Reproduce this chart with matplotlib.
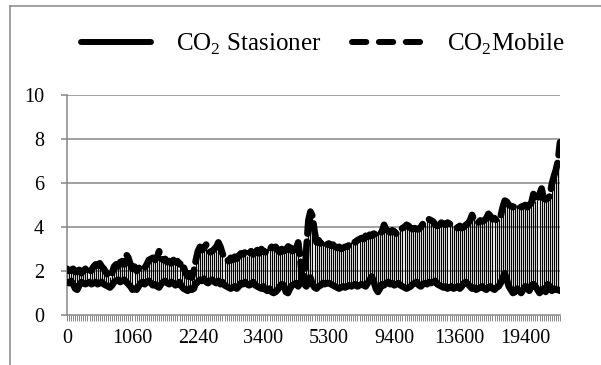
import matplotlib
matplotlib.use('Agg')
import matplotlib.pyplot as plt
from matplotlib.lines import Line2D

plt.rcParams['font.family'] = ['Liberation Serif', 'DejaVu Serif']
plt.rcParams['mathtext.fontset'] = 'custom'
plt.rcParams['mathtext.rm'] = 'Liberation Serif'

# CO2 values per category
co2_stasioner = [
    1.5, 1.45, 1.55, 1.4, 1.2, 1.15, 1.35, 1.5, 1.45, 1.4,
    1.45, 1.5, 1.4, 1.45, 1.5, 1.4, 1.45, 1.5, 1.4, 1.35,
    1.3, 1.25, 1.35, 1.5, 1.55, 1.6, 1.5, 1.55, 1.6, 1.5,
    1.4, 1.3, 1.15, 1.2, 1.15, 1.3, 1.45, 1.5, 1.4, 1.5,
    1.55, 1.45, 1.35, 1.4, 1.3, 1.25, 1.4, 1.5, 1.55, 1.45,
    1.4, 1.5, 1.45, 1.35, 1.4, 1.5, 1.3, 1.2, 1.15, 1.1,
    1.2, 1.15, 1.2, 1.45, 1.5, 1.6, 1.55, 1.65, 1.5, 1.45,
    1.55, 1.6, 1.5, 1.45, 1.55, 1.4, 1.5, 1.35, 1.3, 1.25,
    1.2, 1.25, 1.3, 1.2, 1.3, 1.45, 1.4, 1.5, 1.4, 1.35,
    1.4, 1.5, 1.35, 1.3, 1.25, 1.2, 1.3, 1.15, 1.1, 1.2,
    1.05, 1.0, 1.05, 1.15, 1.3, 1.4, 1.35, 1.05, 1.0, 1.2,
    1.35, 1.4, 1.45, 1.3, 1.5, 1.6, 1.4, 1.3, 1.55, 1.7,
    1.4, 1.25, 1.2, 1.3, 1.35, 1.45, 1.4, 1.45, 1.45, 1.4,
    1.35, 1.3, 1.25, 1.2, 1.25, 1.3, 1.25, 1.3, 1.35, 1.3,
    1.35, 1.4, 1.3, 1.35, 1.4, 1.35, 1.3, 1.45, 1.6, 1.75,
    1.5, 1.2, 1.05, 1.2, 1.4, 1.35, 1.45, 1.5, 1.4, 1.45,
    1.35, 1.4, 1.45, 1.35, 1.3, 1.25, 1.2, 1.25, 1.3, 1.4,
    1.45, 1.5, 1.35, 1.3, 1.4, 1.45, 1.4, 1.5, 1.45, 1.5,
    1.55, 1.4, 1.35, 1.3, 1.25, 1.3, 1.2, 1.25, 1.3, 1.2,
    1.25, 1.3, 1.2, 1.3, 1.45, 1.5, 1.4, 1.3, 1.2, 1.25,
    1.15, 1.2, 1.25, 1.3, 1.2, 1.15, 1.25, 1.3, 1.2, 1.15,
    1.25, 1.3, 1.45, 1.7, 1.9, 1.6, 1.3, 1.15, 1.0, 1.05,
    1.2, 1.1, 1.0, 1.15, 1.3, 1.2, 1.1, 1.35, 1.4, 1.3,
    1.15, 1.0, 1.1, 1.2, 1.05, 1.4, 1.3, 1.1, 1.2, 1.15, 1.15, 1.1,
]
co2_mobile = [
    2.1, 2.0, 2.05, 2.1, 1.95, 2.0, 2.05, 1.9, 2.0, 2.1,
    2.0, 1.9, 2.05, 2.2, 2.3, 2.25, 2.35, 2.2, 2.1, 1.95,
    1.8, 1.75, 1.9, 2.2, 2.3, 2.2, 2.4, 2.45, 2.3, 2.75,
    2.6, 2.3, 2.1, 2.2, 2.0, 2.1, 2.25, 2.2, 2.15, 2.3,
    2.5, 2.55, 2.6, 2.5, 2.6, 2.9, 2.6, 2.5, 2.55, 2.4,
    2.45, 2.35, 2.5, 2.4, 2.45, 2.3, 2.4, 2.2, 1.9, 1.75,
    1.9, 1.7, 2.0, 2.5, 2.9, 3.1, 2.95, 3.05, 3.2, 3.0,
    2.85, 2.9, 3.0, 3.1, 3.3, 3.1, 2.8, 2.6, 2.55, 2.45,
    2.6, 2.5, 2.65, 2.55, 2.7, 2.8, 2.75, 2.85, 2.7, 2.8,
    2.9, 2.75, 2.85, 2.95, 2.8, 3.0, 2.9, 2.85, 3.0, 2.95,
    3.1, 3.05, 3.1, 2.95, 2.85, 3.0, 2.9, 2.95, 3.1, 3.25,
    2.9, 2.95, 3.0, 3.3, 2.6, 1.6, 1.5, 3.0, 4.3, 4.7,
    4.5, 3.8, 3.3, 3.4, 3.25, 3.35, 3.3, 3.2, 3.25, 3.15,
    3.2, 3.1, 3.05, 3.1, 3.0, 3.05, 3.1, 3.1, 3.2, 3.3,
    3.35, 3.3, 3.4, 3.45, 3.5, 3.45, 3.6, 3.55, 3.65, 3.6,
    3.7, 3.65, 3.75, 3.7, 3.8, 4.1, 3.9, 3.8, 3.75, 3.85,
    3.8, 3.7, 3.75, 3.9, 3.95, 4.0, 4.1, 4.05, 3.95, 3.9,
    3.95, 3.9, 3.9, 4.0, 4.15, 4.2, 4.3, 4.35, 4.3, 4.25,
    4.1, 4.05, 4.1, 4.2, 4.15, 4.1, 4.2, 4.15, 4.1, 4.05,
    4.0, 3.95, 4.05, 3.95, 4.0, 4.1, 4.15, 4.3, 4.55, 4.35,
    4.25, 4.2, 4.3, 4.25, 4.3, 4.4, 4.6, 4.5, 4.35, 4.4,
    4.3, 4.35, 4.5, 4.9, 5.2, 5.15, 5.0, 4.95, 4.9, 4.95,
    5.0, 4.95, 4.9, 4.95, 5.0, 4.9, 5.0, 5.1, 5.5, 5.2,
    5.25, 5.5, 5.75, 5.3, 5.25, 5.3, 5.4, 5.95, 6.3, 6.6, 7.0, 7.85,
]
tick_labels = ['0', '1060', '2240', '3400', '5300', '9400', '13600', '19400']
label_step = 32

grey = '#868686'
n = len(co2_mobile)
idx = list(range(n))

fig = plt.figure(figsize=(6.01, 3.65), dpi=100)
ax = fig.add_axes([67 / 601, 1 - 315 / 365, (560 - 67) / 601, (315 - 95) / 365])

# gridlines
for v in [2, 4, 6, 8, 10]:
    ax.axhline(v, color=grey, lw=1.1, zorder=1)

# high-low lines between the two series
lows = [min(a, b) for a, b in zip(co2_stasioner, co2_mobile)]
highs = [max(a, b) for a, b in zip(co2_stasioner, co2_mobile)]
ax.vlines(idx, lows, highs, color='black', lw=0.85, zorder=2)

ax.plot(idx, co2_stasioner, color='black', lw=4.8, solid_capstyle='round',
        solid_joinstyle='round', zorder=3)
ax.plot(idx, co2_mobile, color='black', lw=4.8, linestyle=(0, (4, 1.2)),
        dash_capstyle='round', dash_joinstyle='round', zorder=4)

ax.set_xlim(0, n - 1)
ax.set_ylim(0, 10)
ax.set_yticks([0, 2, 4, 6, 8, 10])
ax.set_xticks(range(0, label_step * len(tick_labels), label_step))
ax.set_xticklabels(tick_labels)
ax.set_xticks(idx, minor=True)

for s in ['top', 'right']:
    ax.spines[s].set_visible(False)
for s in ['left', 'bottom']:
    ax.spines[s].set_color(grey)
    ax.spines[s].set_linewidth(1.1)

ax.tick_params(axis='y', length=4.5, width=1.1, color=grey, pad=12, labelsize=14.5)
ax.tick_params(axis='x', which='both', length=4, width=0.7, color=grey, pad=6, labelsize=14.5)
ax.set_facecolor('none')

handles = [
    Line2D([], [], color='black', lw=4.3, solid_capstyle='round'),
    Line2D([], [], color='black', lw=4.3, linestyle=(0, (2.4, 2.1)), dash_capstyle='round'),
]
labels = [r'CO$_\mathrm{2}$ Stasioner', r'CO$_\mathrm{2}$Mobile']
fig.legend(handles, labels, loc='center', bbox_to_anchor=(323 / 601, 1 - 44 / 365), ncol=2,
           frameon=False, fontsize=18, handlelength=2.8, handletextpad=1.0,
           columnspacing=1.2)

# chart area border (left and top edges visible)
fig.add_artist(Line2D([9.5 / 601, 9.5 / 601], [0, 1 - 6 / 365], color=grey, lw=1.1))
fig.add_artist(Line2D([9.5 / 601, 1], [1 - 6 / 365, 1 - 6 / 365], color=grey, lw=1.1))

fig.savefig('out.png', dpi=100)
